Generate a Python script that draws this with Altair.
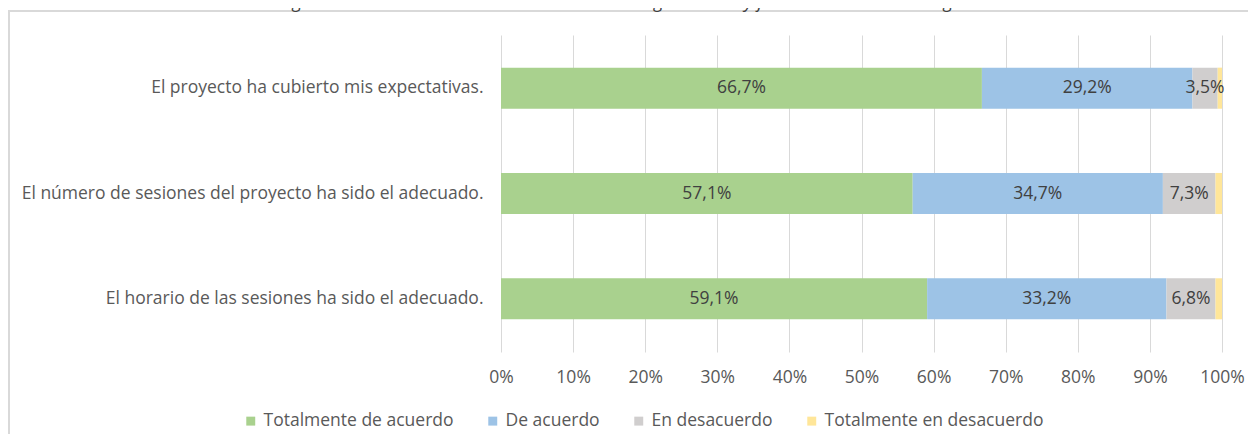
import altair as alt
import pandas as pd

statements = [
    "El proyecto ha cubierto mis expectativas.",
    "El número de sesiones del proyecto ha sido el adecuado.",
    "El horario de las sesiones ha sido el adecuado.",
]
categories = ["Totalmente de acuerdo", "De acuerdo", "En desacuerdo", "Totalmente en desacuerdo"]
totalmente_acuerdo = [66.7, 57.1, 59.1]
de_acuerdo = [29.2, 34.7, 33.2]
en_desacuerdo = [3.5, 7.3, 6.8]
totalmente_desacuerdo = [0.6, 0.9, 0.9]
colors = ["#a9d18e", "#9dc3e6", "#d0cece", "#ffe699"]
x_ticks = [0, 10, 20, 30, 40, 50, 60, 70, 80, 90, 100]
title_text = "Figura 16. Valoración del alumnado sobre la organización y funcionamiento del Programa."

FONT = "Open Sans"
FS = 17.5
series = [totalmente_acuerdo, de_acuerdo, en_desacuerdo, totalmente_desacuerdo]
rows = []
for ci, (cat, vals) in enumerate(zip(categories, series)):
    for s, v in zip(statements, vals):
        label = (f"{v:.1f}".replace(".", ",") + "%") if ci < 3 else ""
        rows.append({"statement": s, "category": cat, "order": ci, "value": v, "label": label})
df = pd.DataFrame(rows)

base = alt.Chart(df).transform_stack(
    stack="value", groupby=["statement"], as_=["x0", "x1"],
    sort=[alt.SortField("order", order="ascending")]
).transform_calculate(mid="(datum.x0 + datum.x1) / 2")

yenc = alt.Y("statement:N", sort=statements, title=None,
             scale=alt.Scale(paddingInner=0.61, paddingOuter=0.31),
             axis=alt.Axis(labelLimit=700, labelPadding=18, ticks=False, domain=False,
                           labelFontSize=FS, labelColor="#595959", labelFont=FONT, grid=False))

bars = base.mark_bar().encode(
    x=alt.X("x0:Q", scale=alt.Scale(domain=[0, 100], nice=False), title=None,
            axis=alt.Axis(values=x_ticks, labelExpr="datum.value + '%'", grid=True,
                          gridColor="#d9d9d9", domain=False, ticks=False, labelPadding=16,
                          labelFlush=False,
                          labelFontSize=FS, labelColor="#595959", labelFont=FONT)),
    x2="x1:Q",
    y=yenc,
    color=alt.Color("category:N", sort=categories,
                    scale=alt.Scale(domain=categories, range=colors),
                    legend=alt.Legend(title=None, orient="none", direction="horizontal",
                                      legendX=-259, legendY=377, symbolType="square",
                                      symbolSize=80, symbolStrokeWidth=0, labelFontSize=FS,
                                      labelColor="#595959", labelFont=FONT, columnPadding=30,
                                      labelOffset=4, labelLimit=400)),
)

texts = base.mark_text(fontSize=FS, color="#404040", font=FONT).encode(
    x="mid:Q", y=alt.Y("statement:N", sort=statements), text="label:N"
)

frame = alt.Chart(pd.DataFrame({"a": [0]})).mark_rect(
    fillOpacity=0, stroke="#d9d9d9", strokeWidth=2
).encode(x=alt.value(-492), x2=alt.value(780), y=alt.value(-24), y2=alt.value(430))

title = alt.Chart(pd.DataFrame({"t": [title_text]})).mark_text(
    fontSize=18, fontStyle="italic", color="#404040", font=FONT, baseline="alphabetic"
).encode(x=alt.value(139), y=alt.value(-27), text="t:N")

chart = alt.layer(frame, bars, texts, title).properties(
    width=721, height=317,
    padding={"left": 493, "top": 27, "right": 26, "bottom": 82},
    autosize=alt.AutoSizeParams(type="none"),
).configure_view(stroke=None)

chart.save("out.html", embed_options={"renderer": "svg", "actions": False})
